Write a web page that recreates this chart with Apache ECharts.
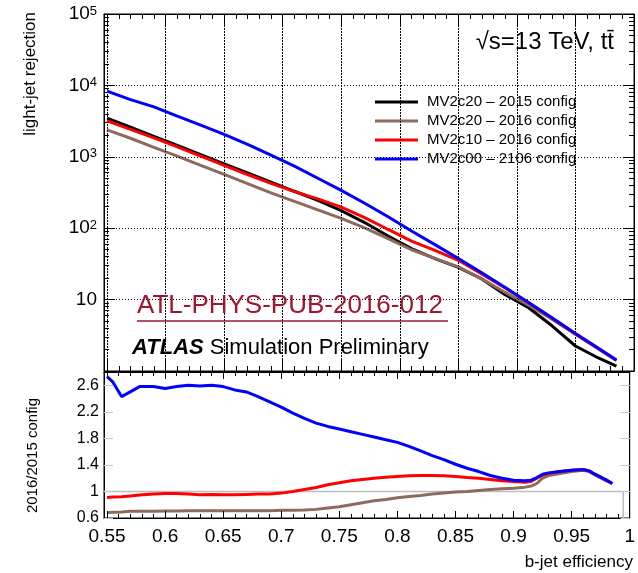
<!DOCTYPE html>
<html><head><meta charset="utf-8">
<script src="https://cdn.jsdelivr.net/npm/echarts@6/dist/echarts.min.js"></script>
<style>html,body{margin:0;padding:0;background:#fff}#c{width:638px;height:573px}</style>
</head><body><div id="c"></div>
<script>
// ---------- data ----------
const effTop = [0.55,0.57,0.59,0.61,0.63,0.65,0.67,0.69,0.71,0.73,0.75,0.77,0.79,0.81,0.83,0.85,0.87,0.89,0.91,0.93,0.95,0.97,0.985];
const mv2c20_2015 = [3491,2600,1936,1439,1072,798,594,442,329,245,176,120,77.6,51.9,37.6,28.2,19.5,11.7,7.7,4.3,2.24,1.51,1.17];
const mv2c20_2016 = [2377,1820,1355,1021,760,566,422,313,237,181,137,101,71.4,49.9,37.8,28.8,19.5,12.6,8.32,5.31,3.27,2.02,1.40];
const mv2c10_2016 = [3177,2415,1841,1380,1019,759,565,424,326,257,197,141,96,66,48.8,35.5,22.9,14.5,9.02,5.5,3.31,2.04,1.41];
const mv2c00_2016 = [8300,6310,5012,3715,2786,2065,1496,1059,741,501,339,224,145,91.2,58.9,37.6,23.7,14.8,9.12,5.56,3.35,2.07,1.43];

const effRatio = [0.55,0.555,0.5625,0.57,0.578,0.59,0.60,0.61,0.62,0.63,0.64,0.65,0.66,0.67,0.68,0.69,0.70,0.71,0.72,0.73,0.74,0.75,0.76,0.77,0.78,0.79,0.80,0.81,0.82,0.83,0.84,0.85,0.86,0.87,0.88,0.89,0.90,0.91,0.915,0.92,0.925,0.93,0.94,0.95,0.96,0.965,0.97,0.98,0.985];
const ratioBlue  = [2.73,2.65,2.43,2.50,2.58,2.58,2.55,2.58,2.60,2.59,2.60,2.58,2.53,2.50,2.43,2.35,2.27,2.18,2.10,2.03,1.98,1.94,1.90,1.86,1.82,1.78,1.74,1.68,1.61,1.54,1.48,1.41,1.35,1.30,1.24,1.20,1.17,1.16,1.17,1.21,1.26,1.28,1.30,1.32,1.33,1.31,1.26,1.17,1.12];
const ratioRed   = [0.91,0.915,0.92,0.93,0.945,0.96,0.97,0.97,0.96,0.95,0.955,0.95,0.95,0.955,0.96,0.96,0.975,1.00,1.03,1.06,1.10,1.13,1.16,1.18,1.20,1.215,1.225,1.235,1.24,1.24,1.235,1.225,1.21,1.20,1.18,1.16,1.15,1.14,1.15,1.20,1.25,1.27,1.30,1.32,1.33,1.31,1.26,1.17,1.12];
const ratioBrown = [0.68,0.685,0.69,0.70,0.70,0.70,0.705,0.705,0.71,0.71,0.71,0.71,0.71,0.71,0.71,0.71,0.715,0.715,0.72,0.73,0.75,0.77,0.80,0.83,0.86,0.88,0.905,0.925,0.94,0.96,0.975,0.99,1.00,1.015,1.03,1.04,1.05,1.065,1.08,1.12,1.20,1.24,1.27,1.30,1.32,1.30,1.25,1.16,1.12];

const refEff = [0.5474,0.9944,0.9944];
const refVal = [1,1,0.6];

const seriesNames = ['MV2c20 \u2013 2015 config','MV2c20 \u2013 2016 config','MV2c10 \u2013 2016 config','MV2c00 \u2013 2106 config'];
const seriesColors = ['#000000','#8c6b5c','#ff0000','#0000ff'];

const xMajorTicks = [0.55,0.6,0.65,0.7,0.75,0.8,0.85,0.9,0.95,1.0];
const ratioTickLabels = [0.6,1,1.4,1.8,2.2,2.6];

// ---------- helpers ----------
const FONT = '"Liberation Sans", Arial, Helvetica, sans-serif';
const XMIN = 0.5474, XMAX = 1.0, TOPMIN = 1, TOPMAX = 100000, RMIN = 0.6, RMAX = 2.8;
const xMinorTicks = []; for (let k = 55; k <= 100; k++) xMinorTicks.push(k / 100);
const logMajor = [0,1,2,3,4,5];
const logMinor = []; for (let d = 0; d < 5; d++) for (let m = 2; m <= 9; m++) logMinor.push(d + Math.log10(m));

const pairs = (xs, ys) => xs.map((x, i) => [x, ys[i]]);
const tickAx = (grid, pos, vals, len, line) => ({
  type: 'value', gridIndex: grid, position: pos, min: XMIN, max: XMAX,
  axisLine: {show: !!line, onZero: false, lineStyle: {color: '#000', width: 1}},
  axisLabel: {show: false}, splitLine: {show: false},
  axisTick: {show: true, inside: true, length: len, customValues: vals, lineStyle: {color: '#000', width: 1}}
});
const logTick = (pos, vals, len, line) => ({
  type: 'value', gridIndex: 0, position: pos, min: 0, max: 5,
  axisLine: {show: !!line, onZero: false, lineStyle: {color: '#000', width: 1}},
  axisLabel: {show: false}, splitLine: {show: false},
  axisTick: {show: true, inside: true, length: len, customValues: vals, lineStyle: {color: '#000'}}
});

// tick marks and dotted grid drawn as markLine segments through the axes' own scales
const fMaj = Math.pow(10, 11 / 71.4), fMin = Math.pow(10, 5 / 71.4);
const dxMaj = 11 / 1171, dxMin = 5 / 1171, dxR = 9 / 1171;
const topTickSegs = [], topGridSegs = [], botTickSegs = [], botGreySegs = [];
xMinorTicks.forEach(v => {
  if (v >= XMAX - 1e-9) return;
  const isMaj = xMajorTicks.some(m => Math.abs(m - v) < 1e-9);
  const f = isMaj ? fMaj : fMin;
  topTickSegs.push([v, TOPMIN, v, TOPMIN * f]);
  topTickSegs.push([v, TOPMAX, v, TOPMAX / f]);
  const d = isMaj ? 7 / 66.36 : 4 / 66.36;
  botTickSegs.push([v, RMIN, v, RMIN + d]);
  if (isMaj) topGridSegs.push([v, TOPMIN, v, TOPMAX]);
});
for (let d = 0; d < 5; d++) for (let m = 1; m <= 9; m++) {
  const y = m * Math.pow(10, d);
  if (y <= TOPMIN) continue;
  const dx = m === 1 ? dxMaj : dxMin;
  topTickSegs.push([XMIN, y, XMIN + dx, y]);
  topTickSegs.push([XMAX, y, XMAX - dx, y]);
  if (m === 1) topGridSegs.push([XMIN, y, XMAX, y]);
}
ratioTickLabels.forEach(r => {
  if (r <= RMIN) return;
  botGreySegs.push([XMIN, r, XMIN + dxR, r]);
  botGreySegs.push([XMAX, r, XMAX - dxR, r]);
});
const segs = list => list.map(s => [{coord: [s[0], s[1]]}, {coord: [s[2], s[3]]}]);
const helper = (name, xi, yi, anchor, segList, style, z) => ({
  name: name, type: 'line', xAxisIndex: xi, yAxisIndex: yi, data: [anchor], symbol: 'none', showSymbol: false,
  lineStyle: {width: 0, opacity: 0}, z: z, silent: true,
  markLine: {silent: true, symbol: ['none', 'none'], label: {show: false}, emphasis: {disabled: true}, animation: false,
    lineStyle: style, data: segs(segList)}
});

const chart = echarts.init(document.getElementById('c'), null, {renderer: 'canvas'});

const xAxes = [
  {type: 'value', gridIndex: 0, position: 'bottom', min: XMIN, max: XMAX,
   axisLine: {show: true, onZero: false, lineStyle: {color: '#000', width: 1}}, axisLabel: {show: false},
   axisTick: {show: true, inside: true, length: 11, customValues: xMajorTicks, lineStyle: {color: '#000'}},
   splitLine: {show: true, lineStyle: {color: '#000', type: [1, 2], width: 1}}},
  tickAx(0, 'bottom', xMinorTicks, 5),
  tickAx(0, 'top', xMajorTicks, 11, true),
  tickAx(0, 'top', xMinorTicks, 5),
  {type: 'value', gridIndex: 1, position: 'bottom', min: XMIN, max: XMAX,
   axisLine: {show: true, onZero: false, lineStyle: {color: '#000', width: 1}}, splitLine: {show: false},
   axisTick: {show: true, inside: true, length: 7, customValues: xMajorTicks, lineStyle: {color: '#000'}},
   axisLabel: {show: true, customValues: xMajorTicks, margin: 9, fontSize: 19, color: '#000', fontFamily: FONT,
     formatter: v => String(+(+v).toFixed(2))}},
  tickAx(1, 'bottom', xMinorTicks, 4),
  tickAx(1, 'top', xMajorTicks, 7, true),
  tickAx(1, 'top', xMinorTicks, 4)
];

const yAxes = [
  {type: 'log', logBase: 10, gridIndex: 0, position: 'left', min: TOPMIN, max: TOPMAX,
   axisLine: {show: true, onZero: false, lineStyle: {color: '#000', width: 1}},
   axisTick: {show: true, inside: true, length: 11, lineStyle: {color: '#000'}},
   splitLine: {show: true, lineStyle: {color: '#000', type: [1, 2], width: 1}},
   minorTick: {show: false},
   axisLabel: {show: true, margin: 7, color: '#000', fontFamily: FONT,
     formatter: v => { const p = Math.round(Math.log10(v)); if (p === 0) return ''; if (p === 1) return '{b|10}'; return '{b|10}{s|' + p + '}'; },
     rich: {b: {fontSize: 19, lineHeight: 19, verticalAlign: 'bottom', fontFamily: FONT, color: '#000'},
            s: {fontSize: 13, lineHeight: 13, verticalAlign: 'top', padding: [0, 0, 12, 0], fontFamily: FONT, color: '#000'}}}},
  logTick('left', logMinor, 5),
  logTick('right', logMajor, 11, true),
  logTick('right', logMinor, 5),
  {type: 'value', gridIndex: 1, position: 'left', min: RMIN, max: RMAX,
   axisLine: {show: true, onZero: false, lineStyle: {color: '#000', width: 1}}, splitLine: {show: false},
   axisTick: {show: true, inside: true, length: 9, customValues: ratioTickLabels, lineStyle: {color: '#c8c8c8'}},
   axisLabel: {show: true, customValues: ratioTickLabels, margin: 5, fontSize: 16, color: '#000', fontFamily: FONT,
     formatter: v => String(+(+v).toFixed(1))}},
  {type: 'value', gridIndex: 1, position: 'right', min: RMIN, max: RMAX,
   axisLine: {show: true, onZero: false, lineStyle: {color: '#000', width: 1}}, splitLine: {show: false}, axisLabel: {show: false},
   axisTick: {show: true, inside: true, length: 9, customValues: ratioTickLabels, lineStyle: {color: '#c8c8c8'}}}
];

const series = [];
series.push(helper('_grid', 0, 0, [0.7, 10], topGridSegs, {color: '#000', width: 1, type: [1, 2]}, 1));
series.push(helper('_ticksTop', 0, 0, [0.7, 10], topTickSegs, {color: '#000', width: 1, type: 'solid'}, 1));
series.push(helper('_ticksBot', 4, 4, [0.7, 1], botTickSegs, {color: '#000', width: 1, type: 'solid'}, 1));
series.push(helper('_ticksBotY', 4, 4, [0.7, 1], botGreySegs, {color: '#c8c8c8', width: 1, type: 'solid'}, 1));

const topData = [mv2c20_2015, mv2c20_2016, mv2c10_2016, mv2c00_2016];
topData.forEach((d, i) => series.push({
  name: seriesNames[i], type: 'line', xAxisIndex: 0, yAxisIndex: 0,
  data: pairs(effTop, d), symbol: 'none',
  lineStyle: {color: seriesColors[i], width: 3}, itemStyle: {color: seriesColors[i]}, z: 3 + i
}));
series.push({name: 'ref', type: 'line', xAxisIndex: 4, yAxisIndex: 4, data: pairs(refEff, refVal),
  symbol: 'none', lineStyle: {color: '#bdbdbd', width: 1.5}, itemStyle: {color: '#bdbdbd'}, z: 2});
[[ratioBrown, 1], [ratioRed, 2], [ratioBlue, 3]].forEach(([d, ci]) => series.push({
  name: 'ratio ' + seriesNames[ci], type: 'line', xAxisIndex: 4, yAxisIndex: 4,
  data: pairs(effRatio, d), symbol: 'none',
  lineStyle: {color: seriesColors[ci], width: 3}, itemStyle: {color: seriesColors[ci]}, z: 3 + ci
}));

chart.setOption({
  animation: false,
  backgroundColor: '#fff',
  grid: [
    {left: 104, top: 14, width: 530, height: 357, show: true, borderColor: '#000', borderWidth: 1, backgroundColor: 'transparent'},
    {left: 104, top: 372, width: 530, height: 146, show: true, borderColor: '#000', borderWidth: 1, backgroundColor: 'transparent'}
  ],
  xAxis: xAxes,
  yAxis: yAxes,
  legend: {
    data: seriesNames, orient: 'vertical', left: 375, top: 94, padding: 0,
    itemWidth: 43, itemHeight: 3, itemGap: 3, icon: 'rect',
    textStyle: {fontSize: 15, fontFamily: FONT, color: '#000', lineHeight: 16, padding: [0, 0, 0, 4]}
  },
  series: series,
  graphic: [
    {type: 'text', z: 100, style: {text: '\u221As=13 TeV, tt\u0304', x: 614, y: 42, align: 'right', verticalAlign: 'middle',
      font: '24px ' + FONT, fill: '#000'}},
    {type: 'text', z: 100, style: {text: 'ATL-PHYS-PUB-2016-012', x: 137, y: 306, align: 'left', verticalAlign: 'middle',
      font: '26px ' + FONT, fill: '#a01530'}},
    {type: 'line', z: 100, shape: {x1: 137, y1: 321, x2: 448, y2: 321}, style: {stroke: '#a01530', lineWidth: 1.5}},
    {type: 'text', z: 100, style: {text: '{a|ATLAS} Simulation Preliminary', x: 132, y: 348, align: 'left', verticalAlign: 'middle',
      font: '22px ' + FONT, fill: '#000',
      rich: {a: {fontSize: 22, fontWeight: 'bold', fontStyle: 'italic', fontFamily: FONT}}}},
    {type: 'text', z: 100, x: 30, y: 12, rotation: Math.PI / 2,
      style: {text: 'light-jet rejection', x: 0, y: 0, align: 'right', verticalAlign: 'middle', font: '17px ' + FONT, fill: '#000'}},
    {type: 'text', z: 100, x: 33, y: 398, rotation: Math.PI / 2,
      style: {text: '2016/2015 config', x: 0, y: 0, align: 'right', verticalAlign: 'middle', font: '15px ' + FONT, fill: '#000'}},
    {type: 'text', z: 100, style: {text: 'b-jet efficiency', x: 633, y: 562, align: 'right', verticalAlign: 'middle',
      font: '17px ' + FONT, fill: '#000'}}
  ]
});
</script></body></html>
